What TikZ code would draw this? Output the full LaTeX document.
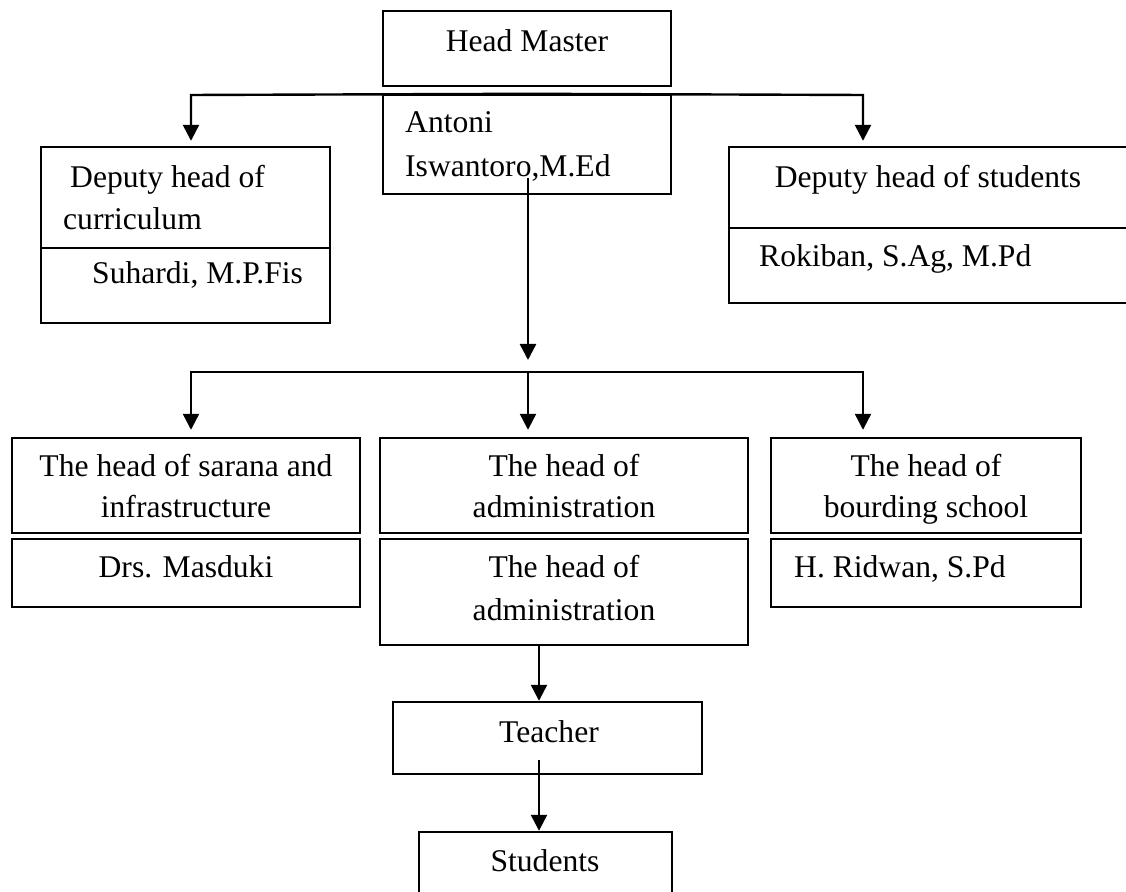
\documentclass[tikz,border=0pt]{standalone}
\usepackage{fontspec}
\setmainfont{Liberation Serif}
\usetikzlibrary{arrows.meta}

\tikzset{
    box/.style={draw, rectangle, inner sep=0pt},
    txt/.style={inner sep=0pt, anchor=base},
    txtl/.style={inner sep=0pt, anchor=base west}
}

\begin{document}
\begin{tikzpicture}[x=0.5pt, y=-0.5pt, line width=1.2pt,
    >={Triangle[length=8pt,width=8pt]},
    font=\fontsize{15.8}{19}\selectfont]
    \useasboundingbox (0,0) rectangle (1126,892);

    % Boxes
    \node[box, minimum width=144pt, minimum height=37.5pt] (hm) at (527,48.5) {};
    \node[box, minimum width=144pt, minimum height=49.5pt] (antoni) at (527,144.5) {};
    \node[box, minimum width=144.5pt, minimum height=50.5pt] (currtop) at (185.5,197.5) {};
    \node[box, minimum width=144.5pt, minimum height=37.5pt] (currbot) at (185.5,285.5) {};
    \node[box, minimum width=199.5pt, minimum height=40.5pt] (studtop) at (928.5,187.5) {};
    \node[box, minimum width=199.5pt, minimum height=37.5pt] (studbot) at (928.5,265.5) {};
    \node[box, minimum width=174pt, minimum height=47.5pt] (sartop) at (186,485.5) {};
    \node[box, minimum width=174pt, minimum height=34pt] (sarbot) at (186,573) {};
    \node[box, minimum width=184pt, minimum height=47.5pt] (admtop) at (564,485.5) {};
    \node[box, minimum width=184pt, minimum height=53pt] (admbot) at (564,592) {};
    \node[box, minimum width=155pt, minimum height=47.5pt] (boatop) at (926,485.5) {};
    \node[box, minimum width=155pt, minimum height=34pt] (boabot) at (926,573) {};
    \node[box, minimum width=154.5pt, minimum height=36pt] (teacher) at (547.5,738) {};
    \node[box, minimum width=126.5pt, minimum height=36.5pt] (students) at (545.5,868.5) {};

    % Texts
    \node[txt] (hmt) at (527,52) {Head Master};
    \node[txtl] (ant1) at (404,133) {Antoni};
    \node[txtl] (ant2) at (404,177) {Iswantoro,M.Ed};
    \node[txtl] (cur1) at (69,188) {Deputy head of};
    \node[txtl] (cur2) at (62,230) {curriculum};
    \node[txtl] (cur3) at (91,284) {Suhardi, M.P.Fis};
    \node[txt] (stu1) at (928,188) {Deputy head of students};
    \node[txtl] (stu2) at (758,267) {Rokiban, S.Ag, M.Pd};
    \node[txt] (sar1) at (186,477) {The head of sarana and};
    \node[txt] (sar2) at (186,518) {infrastructure};
    \node[txt] (sar3) at (186,578) {Drs. Masduki};
    \node[txt] (adm1) at (564,477) {The head of};
    \node[txt] (adm2) at (564,518) {administration};
    \node[txt] (adm3) at (564,578) {The head of};
    \node[txt] (adm4) at (564,621) {administration};
    \node[txt] (boa1) at (926,477) {The head of};
    \node[txt] (boa2) at (926,518) {bourding school};
    \node[txtl] (boa3) at (793,578) {H. Ridwan, S.Pd};
    \node[txt] (tea) at (549,743) {Teacher};
    \node[txt] (stds) at (545,872) {Students};

    % Connectors
    \coordinate (tl) at (191,95);
    \coordinate (tr) at (863,95);
    \draw[->, shorten >=2.5pt] (antoni.north) -- (tl) -- (tl |- currtop.north);
    \draw[->, shorten >=2.5pt] (antoni.north) -- (tr) -- (tr |- studtop.north);

    \coordinate (asrc) at (528,178);
    \coordinate (bartop) at (528,360);
    \draw[->] (asrc) -- (bartop);

    \coordinate (bar) at (528,372);
    \coordinate (bl) at (191,372);
    \coordinate (br) at (863,372);
    \draw[->, shorten >=3.5pt] (bar) -- (bl) -- (bl |- sartop.north);
    \draw[->, shorten >=3.5pt] (bar) -- (br) -- (br |- boatop.north);
    \draw[->, shorten >=3.5pt] (bar) -- (bar |- admtop.north);

    \coordinate (lowx) at (539,0);
    \draw[->] (admbot.south -| lowx) -- (teacher.north -| lowx);
    \coordinate (tsrc) at (539,760);
    \draw[->] (tsrc) -- (tsrc |- students.north);
\end{tikzpicture}
\end{document}
